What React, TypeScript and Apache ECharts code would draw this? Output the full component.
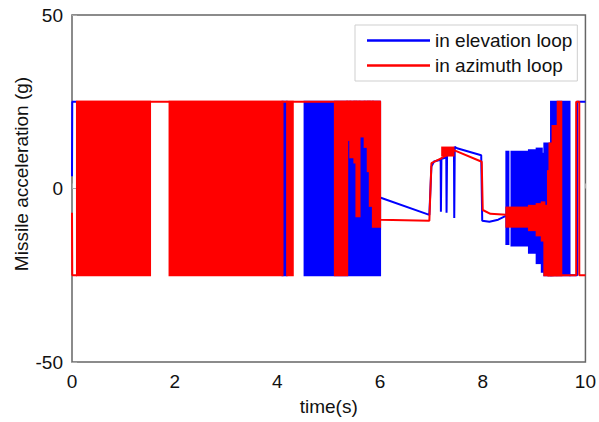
import React, { useEffect, useRef } from "react";
import * as echarts from "echarts";

// Tick values
const xTicks = [0, 2, 4, 6, 8, 10];
const yTicks = [-50, 0, 50];

const seriesNames = ["in elevation loop", "in azimuth loop"];

// Non-chattering trajectory, elevation loop: [time (s), acceleration (g)]; "-" breaks the line
const elevLine: [number | string, number | string][] = [
  [0, 3.5], [0.005, 25], [0.1, 25], ["-", "-"],
  [6.0, -12], [6.0, -2.6], [6.96, -7.6], [7.0, 6.3],
  [7.05, 7.8], [7.18, 8.3], [7.185, -6.7], [7.195, 8.5], [7.29, 9.0],
  [7.295, -7.0], [7.305, 9.5], [7.44, 10.5], [7.445, -8.5], [7.455, 12.0],
  [7.5, 11.6], [7.97, 9.6], [7.99, -9.3], [8.13, -9.6], [8.3, -9.0],
  [8.46, -7.8], [9.2, -7.8], ["-", "-"],
  [9.69, -25], [9.84, -25], [9.84, 25], [10, 25],
];

// Non-chattering trajectory, azimuth loop
const azimLine: [number, number][] = [
  [0, -7], [0.005, -25], [0.097, -25], [0.097, 25], [6.0, 25], [6.0, -9.0],
  [6.96, -9.3], [7.0, 7.3], [7.18, 8.6], [7.45, 11.0], [7.98, 7.7],
  [8.0, -6.2], [8.15, -7.3], [8.46, -7.6], [9.2, -8.0], [9.27, -25],
  [9.82, -25], [9.82, 25], [9.88, 25], [9.88, -25], [10, -25],
];

// Chattering envelopes: [t start, t end, lower g, upper g]
const elevBands: [number, number, number, number][] = [
  [4.1, 4.18, -25, 25],
  [4.53, 6.0, -25, 25],
  [8.46, 8.5, -16, 10.6],
  [8.56, 8.9, -16.4, 10.6],
  [8.9, 9.05, -18.5, 11],
  [9.05, 9.15, -21.5, 11.5],
  [9.15, 9.2, -24, 10],
  [9.2, 9.33, -25, 13],
  [9.33, 9.69, -25, 25],
];

const azimBands: [number, number, number, number][] = [
  [0.097, 1.52, -25, 25],
  [1.9, 4.1, -25, 25],
  [4.19, 4.3, -25, 25],
  [5.12, 5.36, -25, 25],
  [5.36, 5.42, 14, 25],
  [5.42, 5.5, 9, 25],
  [5.5, 5.54, 7.5, 25],
  [5.54, 5.6, -8, 25],
  [5.6, 5.7, 15, 25],
  [5.7, 5.76, 12, 25],
  [5.76, 5.8, 5, 25],
  [5.8, 5.86, -5, 25],
  [5.86, 6.0, -11, 25],
  [7.21, 7.43, 9.5, 11.8],
  [8.46, 8.9, -11, -5.5],
  [8.9, 9.05, -12, -5],
  [9.05, 9.15, -13.5, -4.5],
  [9.15, 9.2, -15, -4],
  [9.2, 9.27, -25, -5],
  [9.27, 9.3, -25, 5],
  [9.3, 9.36, -25, 13],
  [9.36, 9.43, -25, 18],
  [9.46, 9.53, -25, 25],
];

const BLUE = "#0000ff";
const RED = "#ff0000";
const FONT = "Liberation Sans, Arial, sans-serif";

function bandRenderer(color: string) {
  return (_params: any, api: any) => {
    const a = api.coord([api.value(0), api.value(3)]);
    const b = api.coord([api.value(1), api.value(2)]);
    return {
      type: "rect",
      shape: { x: a[0] - 1, y: a[1] - 1, width: b[0] - a[0] + 2, height: b[1] - a[1] + 2 },
      style: { fill: color },
    };
  };
}

export default function App() {
  const ref = useRef<HTMLDivElement>(null);
  useEffect(() => {
    if (!ref.current) return;
    const chart = echarts.init(ref.current, null, { renderer: "svg" });
    chart.setOption({
      animation: false,
      backgroundColor: "#fff",
      grid: {
        left: 72, right: 13, top: 15, bottom: 60,
        show: true, borderColor: "#666", borderWidth: 1.5, backgroundColor: "#fff",
      },
      legend: {
        data: seriesNames,
        orient: "vertical",
        left: 355,
        top: 25,
        padding: [6, 5, 6, 12],
        itemGap: 6,
        itemWidth: 63,
        itemHeight: 2.5,
        icon: "rect",
        selectedMode: false,
        borderColor: "#cfcfcf",
        borderWidth: 1,
        backgroundColor: "#fff",
        textStyle: { fontSize: 19, fontFamily: FONT, color: "#111" },
      },
      xAxis: {
        type: "value",
        min: xTicks[0],
        max: xTicks[xTicks.length - 1],
        interval: xTicks[1] - xTicks[0],
        name: "time(s)",
        nameLocation: "middle",
        nameGap: 35,
        nameTextStyle: { fontSize: 19, fontFamily: FONT, color: "#111" },
        axisLine: { show: false },
        axisTick: { show: true, inside: true, length: 5, lineStyle: { color: "#aaa" } },
        axisLabel: { margin: 10, fontSize: 19, fontFamily: FONT, color: "#111" },
        splitLine: { show: false },
      },
      yAxis: {
        type: "value",
        min: yTicks[0],
        max: yTicks[yTicks.length - 1],
        interval: yTicks[1] - yTicks[0],
        axisLine: { show: false },
        axisTick: { show: true, inside: true, length: 5, lineStyle: { color: "#aaa" } },
        axisLabel: { margin: 9, fontSize: 19, fontFamily: FONT, color: "#111" },
        splitLine: { show: false },
      },
      graphic: [
        {
          type: "text",
          x: 21,
          y: 174,
          rotation: Math.PI / 2,
          style: {
            text: "Missile acceleration (g)",
            fontSize: 19,
            fontFamily: FONT,
            fill: "#111",
            align: "center",
            verticalAlign: "middle",
          },
        },
      ],
      series: [
        {
          name: "elevBands",
          type: "custom",
          renderItem: bandRenderer(BLUE),
          encode: { x: [0, 1], y: [2, 3] },
          data: elevBands,
          clip: true,
          z: 2,
          silent: true,
        },
        {
          name: seriesNames[0],
          type: "line",
          data: elevLine,
          showSymbol: false,
          symbol: "none",
          connectNulls: false,
          lineStyle: { color: BLUE, width: 2 },
          itemStyle: { color: BLUE },
          z: 3,
          clip: true,
        },
        {
          name: "azimBands",
          type: "custom",
          renderItem: bandRenderer(RED),
          encode: { x: [0, 1], y: [2, 3] },
          data: azimBands,
          clip: true,
          z: 4,
          silent: true,
        },
        {
          name: seriesNames[1],
          type: "line",
          data: azimLine,
          showSymbol: false,
          symbol: "none",
          lineStyle: { color: RED, width: 2 },
          itemStyle: { color: RED },
          z: 5,
          clip: true,
        },
      ],
    });
    return () => chart.dispose();
  }, []);
  return (
    <div
      ref={ref}
      style={{ position: "fixed", left: 0, top: 0, width: 599, height: 422 }}
    />
  );
}
